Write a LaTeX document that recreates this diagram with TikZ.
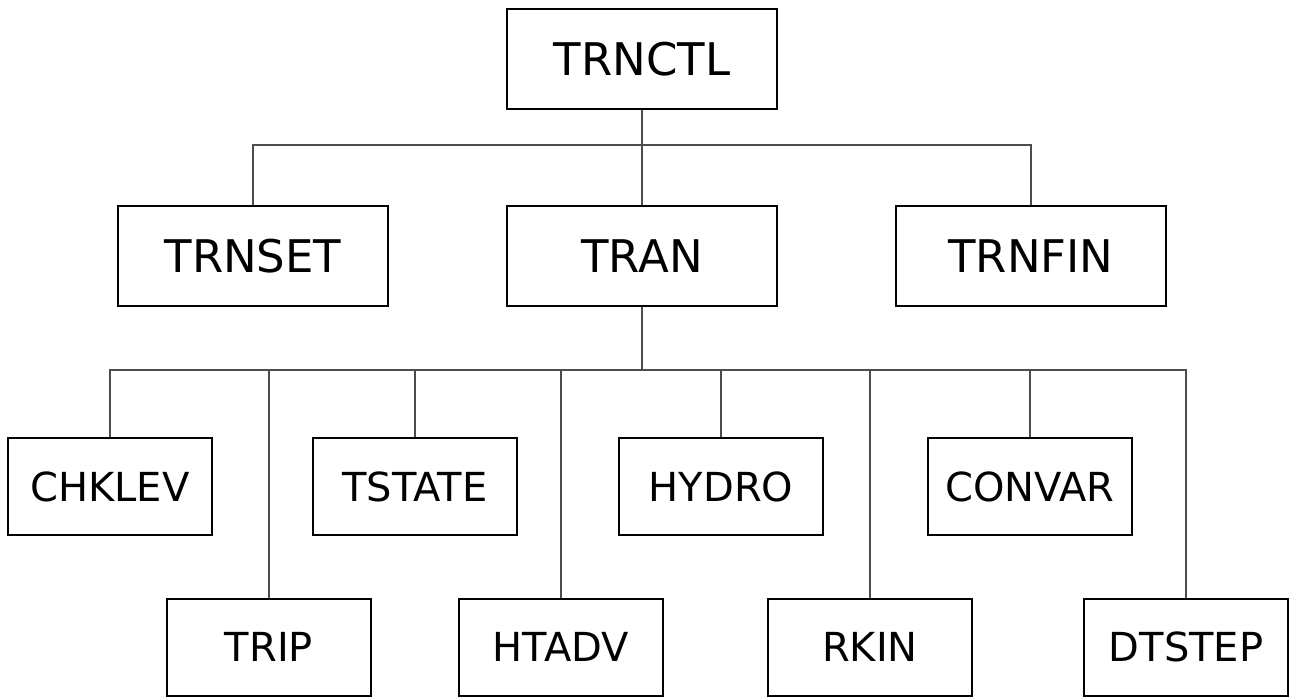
\documentclass[tikz,border=0pt]{standalone}
\usepackage{fontspec}
\setmainfont{DejaVu Sans}
\begin{document}
\begin{tikzpicture}[x=1pt,y=-1pt,
  routine/.style={draw=black, line width=2pt, inner sep=0pt},
  bigbox/.style={routine, minimum width=270pt, minimum height=100pt,
                 font=\fontsize{45}{54}\selectfont},
  smallbox/.style={routine, minimum width=204pt, minimum height=97pt,
                   font=\fontsize{40}{48}\selectfont},
  link/.style={draw=black!70, line width=1.2pt}]
\useasboundingbox (0,0) rectangle (1291,697);
% top level
\node[bigbox] (trnctl) at (642,59) {TRNCTL};
% second level
\node[bigbox] (trnset) at (253,256) {TRNSET};
\node[bigbox] (tran)   at (642,256) {TRAN};
\node[bigbox] (trnfin) at (1031,256) {TRNFIN};
% third level (alternating rows)
\node[smallbox] (chklev) at (110,486.5) {CHKLEV};
\node[smallbox] (trip)   at (269,647) {TRIP};
\node[smallbox] (tstate) at (415,486.5) {TSTATE};
\node[smallbox] (htadv)  at (561,647) {HTADV};
\node[smallbox] (hydro)  at (721,486.5) {HYDRO};
\node[smallbox] (rkin)   at (870,647) {RKIN};
\node[smallbox] (convar) at (1030,486.5) {CONVAR};
\node[smallbox] (dtstep) at (1186,647) {DTSTEP};
% junctions
\coordinate (j1) at (642,145);
\coordinate (j2) at (642,370);
% connectors
\draw[link] (trnctl.south) -- (j1);
\draw[link] (j1) -- (tran.north);
\draw[link] (trnset.north) |- (j1);
\draw[link] (trnfin.north) |- (j1);
\draw[link] (tran.south) -- (j2);
\foreach \n in {chklev,trip,tstate,htadv,hydro,rkin,convar,dtstep}
  \draw[link] (\n.north) |- (j2);
\end{tikzpicture}
\end{document}
